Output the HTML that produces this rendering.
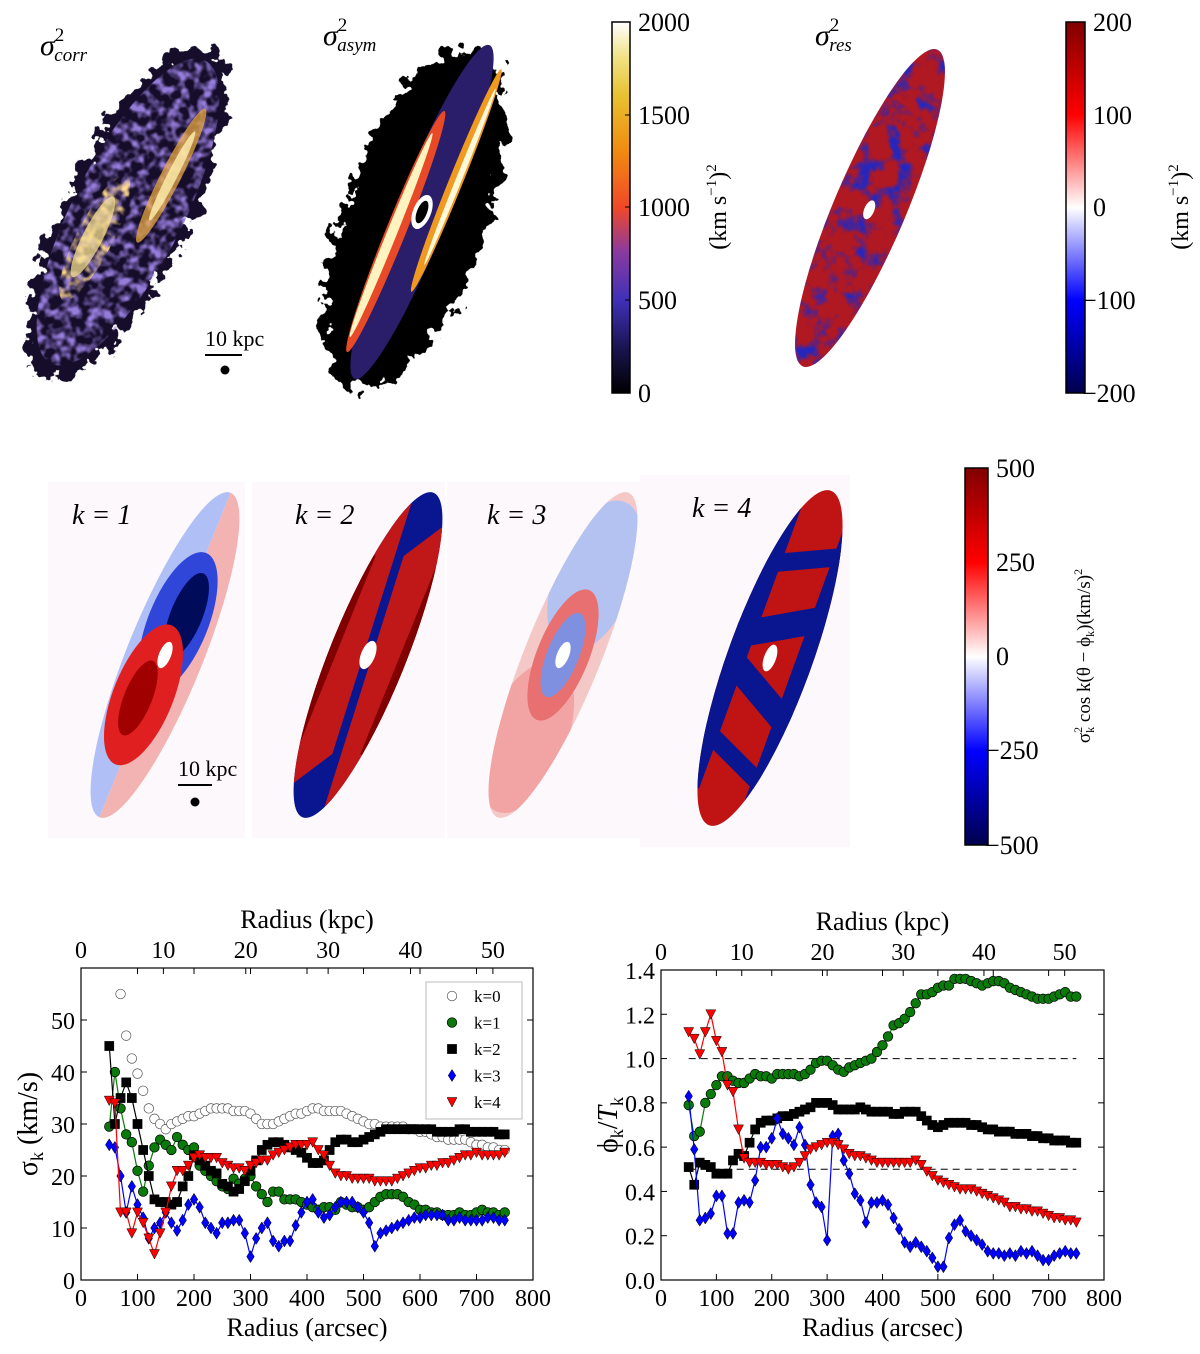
<!DOCTYPE html>
<html><head><meta charset="utf-8"><style>
body{margin:0;background:#fff;}
svg{display:block;font-family:"Liberation Serif",serif;}
</style></head><body>
<svg id="fig" width="1200" height="1354" viewBox="0 0 1200 1354">
<defs>
<linearGradient id="cmr" x1="0" y1="1" x2="0" y2="0">
<stop offset="0" stop-color="#000"/><stop offset="0.12" stop-color="#1a1450"/><stop offset="0.25" stop-color="#4030b8"/><stop offset="0.38" stop-color="#8a3aa0"/><stop offset="0.5" stop-color="#f04828"/><stop offset="0.65" stop-color="#f08a10"/><stop offset="0.8" stop-color="#e8c030"/><stop offset="0.9" stop-color="#f0e080"/><stop offset="1" stop-color="#fff"/>
</linearGradient>
<linearGradient id="seis" x1="0" y1="1" x2="0" y2="0">
<stop offset="0" stop-color="#00004c"/><stop offset="0.25" stop-color="#0000ff"/><stop offset="0.5" stop-color="#ffffff"/><stop offset="0.75" stop-color="#ff0000"/><stop offset="1" stop-color="#800000"/>
</linearGradient>
<filter id="rough" x="-20%" y="-20%" width="140%" height="140%">
<feTurbulence type="fractalNoise" baseFrequency="0.07" numOctaves="3" seed="3"/>
<feDisplacementMap in="SourceGraphic" scale="36" xChannelSelector="R" yChannelSelector="G"/>
</filter>
<filter id="blueNoise" x="0" y="0" width="100%" height="100%">
<feTurbulence type="fractalNoise" baseFrequency="0.05" numOctaves="3" seed="7"/>
<feColorMatrix type="matrix" values="0 0 0 0 0.02  0 0 0 0 0.02  0 0 0 0 0.5  4 0 0 0 -1.9"/>
<feComposite in2="SourceGraphic" operator="in"/>
</filter>
<filter id="purpleNoise" x="0" y="0" width="100%" height="100%">
<feTurbulence type="fractalNoise" baseFrequency="0.1" numOctaves="2" seed="5"/>
<feColorMatrix type="matrix" values="0 0 0 0 0.3  0 0 0 0 0.2  0 0 0 0 0.7  3 0 0 0 -1.2"/>
<feComposite in2="SourceGraphic" operator="in"/>
</filter>
<filter id="warmNoise" x="0" y="0" width="100%" height="100%">
<feTurbulence type="fractalNoise" baseFrequency="0.1" numOctaves="2" seed="11"/>
<feColorMatrix type="matrix" values="0 0 0 0 1  0 0 0 0 0.7  0 0 0 0 0.25  3 0 0 0 -1.3"/>
<feComposite in2="SourceGraphic" operator="in"/>
</filter>
<clipPath id="c1"><ellipse cx="165" cy="655" rx="38" ry="175" transform="rotate(22 165 655)"/></clipPath>
<clipPath id="c2"><ellipse cx="368" cy="655" rx="38" ry="175" transform="rotate(22 368 655)"/></clipPath>
<clipPath id="c3"><ellipse cx="563" cy="655" rx="38" ry="175" transform="rotate(22 563 655)"/></clipPath>
<clipPath id="c4"><ellipse cx="770" cy="658" rx="42" ry="178" transform="rotate(20 770 658)"/></clipPath>
</defs>

<g>
<g transform="rotate(27 128 212)" filter="url(#rough)">
<ellipse cx="128" cy="212" rx="62" ry="185" fill="#140a2a"/>
</g>
<g transform="rotate(27 128 212)">
<ellipse cx="128" cy="212" rx="55" ry="170" fill="#fff" filter="url(#purpleNoise)"/>
<ellipse cx="110" cy="250" rx="18" ry="70" fill="#fff" filter="url(#warmNoise)"/>
<ellipse cx="108" cy="250" rx="10" ry="45" fill="#f8e090" opacity="0.75"/>
<ellipse cx="150" cy="160" rx="10" ry="75" fill="#f4b040" opacity="0.7"/>
<ellipse cx="151" cy="160" rx="5" ry="50" fill="#fff0b0" opacity="0.8"/>
</g>
<text x="40" y="55" font-size="30" font-style="italic">σ<tspan font-size="19" dy="-14" font-style="normal">2</tspan><tspan font-size="19" dy="20" dx="-10">corr</tspan></text>
<text x="205" y="346" font-size="22">10 kpc</text>
<line x1="205" y1="355" x2="242" y2="355" stroke="#000" stroke-width="2"/>
<circle cx="225" cy="370" r="4.5" fill="#000"/>
</g>

<g>
<g transform="rotate(20 415 218)" filter="url(#rough)">
<ellipse cx="415" cy="218" rx="72" ry="180" fill="#000"/>
</g>
<g transform="rotate(22 422 212)">
<ellipse cx="422" cy="212" rx="26" ry="180" fill="#2a1d6a"/>
<ellipse cx="405" cy="240" rx="10" ry="130" fill="#e84a28"/>
<ellipse cx="402" cy="245" rx="5" ry="110" fill="#fff4c0"/>
<ellipse cx="442" cy="170" rx="7" ry="120" fill="#f09a20"/>
<ellipse cx="444" cy="165" rx="3" ry="95" fill="#fff8d8"/>
<ellipse cx="422" cy="212" rx="9" ry="18" fill="#fff"/>
<ellipse cx="422" cy="212" rx="5" ry="12" fill="#000"/>
</g>
<text x="323" y="45" font-size="30" font-style="italic">σ<tspan font-size="19" dy="-14" font-style="normal">2</tspan><tspan font-size="19" dy="20" dx="-10">asym</tspan></text>
</g>

<g>
<rect x="612" y="22" width="18" height="371" fill="url(#cmr)" stroke="#000" stroke-width="1.5"/>
<g font-size="26">
<text x="638" y="31">2000</text><text x="638" y="124">1500</text><text x="638" y="216">1000</text><text x="638" y="309">500</text><text x="638" y="402">0</text>
</g>
<g stroke="#000" stroke-width="1"><line x1="625" y1="115" x2="630" y2="115"/><line x1="625" y1="207" x2="630" y2="207"/><line x1="625" y1="300" x2="630" y2="300"/></g>
<text transform="translate(726 207) rotate(-90)" text-anchor="middle" font-size="24">(km s<tspan font-size="15" dy="-10">−1</tspan><tspan dy="10">)</tspan><tspan font-size="15" dy="-10">2</tspan></text>
</g>

<g>
<g transform="rotate(23 870 208)">
<ellipse cx="870" cy="208" rx="36" ry="172" fill="#b01822"/>
<ellipse cx="870" cy="208" rx="36" ry="172" fill="#fff" filter="url(#blueNoise)"/>
<ellipse cx="870" cy="210" rx="5" ry="10" fill="#fff"/>
</g>
<text x="815" y="45" font-size="30" font-style="italic">σ<tspan font-size="19" dy="-14" font-style="normal">2</tspan><tspan font-size="19" dy="20" dx="-10">res</tspan></text>
</g>

<g>
<rect x="1066" y="22" width="19" height="371" fill="url(#seis)" stroke="#000" stroke-width="1.5"/>
<g font-size="26">
<text x="1093" y="31">200</text><text x="1093" y="124">100</text><text x="1093" y="216">0</text><text x="1082" y="309">−100</text><text x="1082" y="402">−200</text>
</g>
<text transform="translate(1188 207) rotate(-90)" text-anchor="middle" font-size="24">(km s<tspan font-size="15" dy="-10">−1</tspan><tspan dy="10">)</tspan><tspan font-size="15" dy="-10">2</tspan></text>
</g>

<g>
<rect x="48" y="482" width="197" height="356" fill="#fdf8fb"/>
<rect x="252" y="482" width="193" height="356" fill="#fdf8fb"/>
<rect x="447" y="482" width="193" height="356" fill="#fdf8fb"/>
<rect x="640" y="475" width="210" height="372" fill="#fdf8fb"/>

<g clip-path="url(#c1)">
<g transform="rotate(22 165 655)">
<rect x="120" y="470" width="45" height="370" fill="#b0bff5"/>
<rect x="165" y="470" width="45" height="370" fill="#f3b3b3"/>
<ellipse cx="165" cy="620" rx="30" ry="75" fill="#3046d8"/>
<ellipse cx="170" cy="610" rx="16" ry="45" fill="#000c5a"/>
<ellipse cx="160" cy="700" rx="30" ry="75" fill="#e02020"/>
<ellipse cx="156" cy="705" rx="14" ry="40" fill="#a00000"/>
<ellipse cx="165" cy="655" rx="6" ry="14" fill="#fff"/>
</g>
</g>
<text x="72" y="524" font-size="28" font-style="italic">k = 1</text>
<text x="178" y="776" font-size="22">10 kpc</text>
<line x1="178" y1="785" x2="212" y2="785" stroke="#000" stroke-width="2"/>
<circle cx="195" cy="802" r="4.5" fill="#000"/>

<g clip-path="url(#c2)">
<g transform="rotate(22 368 655)">
<rect x="320" y="470" width="100" height="370" fill="#0a1690"/>
<path d="M330 480 L350 480 L372 760 L330 830Z" fill="#c01818"/>
<path d="M406 830 L386 830 L364 550 L406 480Z" fill="#c01818"/>
<rect x="328" y="560" width="10" height="270" fill="#800000"/>
<rect x="398" y="480" width="10" height="270" fill="#800000"/>
<ellipse cx="368" cy="655" rx="7" ry="15" fill="#fff"/>
</g>
</g>
<text x="295" y="524" font-size="28" font-style="italic">k = 2</text>

<g clip-path="url(#c3)">
<g transform="rotate(22 563 655)">
<rect x="520" y="470" width="90" height="370" fill="#f5c8c8"/>
<ellipse cx="563" cy="570" rx="40" ry="80" fill="#b4c2f2"/>
<ellipse cx="560" cy="745" rx="40" ry="80" fill="#f2a4a4"/>
<ellipse cx="563" cy="655" rx="26" ry="70" fill="#e87070"/>
<ellipse cx="563" cy="655" rx="16" ry="45" fill="#8090e0"/>
<ellipse cx="563" cy="655" rx="6" ry="14" fill="#fff"/>
</g>
</g>
<text x="487" y="524" font-size="28" font-style="italic">k = 3</text>

<g clip-path="url(#c4)">
<g transform="rotate(20 770 658)">
<rect x="720" y="470" width="100" height="380" fill="#c01414"/>
<rect x="726" y="505" width="22" height="300" fill="#0a1690"/>
<rect x="795" y="505" width="22" height="300" fill="#0a1690"/>
<rect x="726" y="612" width="88" height="26" fill="#0a1690" transform="rotate(-30 770 625)"/>
<rect x="726" y="680" width="88" height="26" fill="#0a1690" transform="rotate(30 770 693)"/>
<rect x="726" y="545" width="88" height="18" fill="#0a1690" transform="rotate(-25 770 554)"/>
<rect x="726" y="755" width="88" height="18" fill="#0a1690" transform="rotate(25 770 764)"/>
<ellipse cx="770" cy="658" rx="6" ry="14" fill="#fff"/>
</g>
</g>
<text x="692" y="517" font-size="28" font-style="italic">k = 4</text>
</g>

<g>
<rect x="965" y="468" width="23" height="377" fill="url(#seis)" stroke="#000" stroke-width="1.5"/>
<g font-size="26">
<text x="996" y="477">500</text><text x="996" y="571">250</text><text x="996" y="665">0</text><text x="985" y="759">−250</text><text x="985" y="854">−500</text>
</g>
<text transform="translate(1090 656) rotate(-90)" text-anchor="middle" font-size="19">σ<tspan font-size="12" dy="-8">2</tspan><tspan font-size="12" dy="12" dx="-6">k</tspan><tspan dy="-4"> cos k(θ − ϕ</tspan><tspan font-size="12" dy="4">k</tspan><tspan dy="-4">)(km/s)</tspan><tspan font-size="12" dy="-8">2</tspan></text>
</g>

<g id="chartL"></g>
<g id="chartR"></g>
</svg>

<script>
const radius=[50,60,70,80,90,100,110,120,130,140,150,160,170,180,190,200,210,220,230,240,250,260,270,280,290,300,310,320,330,340,350,360,370,380,390,400,410,420,430,440,450,460,470,480,490,500,510,520,530,540,550,560,570,580,590,600,610,620,630,640,650,660,670,680,690,700,710,720,730,740,750];
const sigK0=[null,null,55,47,42.6,39.7,36.4,33,31,30,29,30,30.5,31,31.5,31.5,32,32.5,33,33,33,33,32.5,32.5,32.5,32,31,30,30,30,30.5,31,31.5,32,32,32.5,33,33,32.5,32.5,32.5,32.5,32,31.5,31,30.5,30,30,29.5,29.5,29.5,29.5,29.5,29,29,28.5,28.5,28,27.5,27.5,27,27,27,27,26.5,26,26,25.5,25.5,25,25];
const sigK1=[29.5,40,33,28,26.5,21,17,22,25.5,27,26,25,27.5,26,25,25.5,22,21,20,19,18,17.5,19.5,18.5,19.5,20,18,16.5,15,17,17,15.5,15.5,15.5,15,14.5,14,13.5,14,14,13.5,15,14.5,14,14,13.5,14,15,16,16.5,16.5,16.5,16,15,14.5,13.5,13.5,13,13,12.5,12.5,12.5,13,12.5,12.5,13,13.5,13,13,12.5,13];
const sigK2=[45,30,35,38,35,30,25,20,15.5,15,15,14.5,15,18,20,24,23,22,21,20.5,18.5,18,17,17.5,19,21,23,25,26,26.5,26.5,26,25.5,25,24.5,23.5,22.5,22.5,23,25,26.5,27,27,26.5,26.5,27,27.5,28,28.5,29,29,29,29,29,29,29,29,29,28.5,28.5,28.5,28.5,29,29,28.5,28.5,28.5,28.5,28.5,28,28];
const sigK3=[26,25.5,20,13,18,14.5,12,8,10,11,13,11,9.5,11.5,14.5,15.5,14,11,10,9,11,11,11.5,11.5,9,4.5,8,10,11,7.5,6.5,7.5,7.5,10.5,13,15,15.5,13,12,12.5,14,15,15,15,14,13,11,6.5,9,9.5,10,10.5,11,11.5,12,12,12.5,12.5,12.5,12.5,11.5,11.5,12,11.5,11.5,11.5,11.5,12,12,11.5,11.5];
const sigK4=[34.5,34,13,13,9,13,11,8,5,9,13,18,21,21,22,23.5,24,23.5,23.5,23.5,22.5,22,21.5,21.5,21,22,22.5,23,23,24,24.5,25,25.5,26,26,26,26.5,25,24,22,20.5,20,20,19.5,19.5,19.5,19.5,19,19,19,19,19.5,20,20.5,21,21.5,21.5,22,22,22.5,22.5,23,23.5,24,24,24.5,24,24,24,24,24.5];
const phK1=[0.79,0.65,0.67,0.8,0.84,0.88,0.92,0.92,0.9,0.89,0.89,0.91,0.93,0.92,0.92,0.91,0.93,0.93,0.93,0.93,0.92,0.93,0.95,0.98,0.99,0.99,0.97,0.95,0.94,0.96,0.97,0.98,0.99,1.0,1.03,1.06,1.10,1.15,1.16,1.18,1.21,1.25,1.29,1.29,1.30,1.32,1.33,1.33,1.36,1.36,1.36,1.35,1.34,1.33,1.34,1.35,1.35,1.34,1.32,1.31,1.30,1.29,1.28,1.27,1.27,1.27,1.28,1.29,1.30,1.28,1.28];
const phK2=[0.51,0.43,0.53,0.52,0.51,0.48,0.48,0.48,0.54,0.57,0.56,0.62,0.68,0.71,0.72,0.72,0.73,0.74,0.74,0.75,0.76,0.77,0.78,0.80,0.80,0.80,0.79,0.77,0.77,0.77,0.77,0.78,0.77,0.76,0.76,0.76,0.76,0.75,0.75,0.76,0.76,0.76,0.74,0.72,0.70,0.69,0.70,0.71,0.71,0.71,0.71,0.70,0.70,0.69,0.68,0.68,0.67,0.67,0.67,0.66,0.66,0.66,0.65,0.65,0.64,0.64,0.63,0.63,0.63,0.62,0.62];
const phK3=[0.83,0.59,0.27,0.28,0.30,0.38,0.38,0.21,0.21,0.35,0.36,0.35,0.45,0.60,0.60,0.64,0.73,0.66,0.64,0.61,0.69,0.61,0.43,0.35,0.33,0.18,0.65,0.66,0.54,0.48,0.39,0.36,0.26,0.35,0.35,0.36,0.34,0.28,0.23,0.17,0.15,0.17,0.15,0.13,0.10,0.06,0.06,0.19,0.25,0.27,0.22,0.20,0.18,0.16,0.13,0.12,0.12,0.11,0.12,0.11,0.13,0.12,0.13,0.11,0.09,0.09,0.11,0.12,0.13,0.12,0.12];
const phK4=[1.12,1.09,1.02,1.12,1.20,1.08,1.03,0.88,0.85,0.68,0.55,0.53,0.53,0.53,0.52,0.52,0.52,0.51,0.50,0.51,0.53,0.56,0.59,0.60,0.61,0.62,0.62,0.61,0.59,0.57,0.56,0.56,0.55,0.54,0.53,0.53,0.53,0.53,0.53,0.53,0.53,0.54,0.52,0.49,0.47,0.45,0.44,0.43,0.42,0.41,0.41,0.41,0.40,0.39,0.38,0.37,0.36,0.35,0.33,0.33,0.32,0.32,0.31,0.31,0.30,0.29,0.28,0.28,0.27,0.27,0.26];
const xTicks=[0,100,200,300,400,500,600,700,800];
const kpcTicks=[0,10,20,30,40,50];
const yTicksL=[0,10,20,30,40,50];
const yTicksR=[0,0.2,0.4,0.6,0.8,1.0,1.2,1.4];
const refLines=[1.0,0.5];
const ARCSEC_PER_KPC=14.58;

const NS="http://www.w3.org/2000/svg";
function mk(parent,tag,attrs){const e=document.createElementNS(NS,tag);for(const k in attrs)e.setAttribute(k,attrs[k]);parent.appendChild(e);return e;}

function marker(g,type,cx,cy,color){
  let e;
  if(type==='circle'||type==='open'){e=mk(g,'circle',{cx:cx,cy:cy,r:4.8,fill:type==='open'?'#fff':color,stroke:type==='open'?'#555':'#000','stroke-width':0.7});}
  else if(type==='square'){e=mk(g,'rect',{x:cx-4.6,y:cy-4.6,width:9.2,height:9.2,fill:color,stroke:'#000','stroke-width':0.5});}
  else if(type==='diamond'){e=mk(g,'path',{d:`M${cx} ${cy-6}L${cx+3.8} ${cy}L${cx} ${cy+6}L${cx-3.8} ${cy}Z`,fill:color,stroke:'#000','stroke-width':0.5});}
  else {e=mk(g,'path',{d:`M${cx-5} ${cy-4.5}L${cx+5} ${cy-4.5}L${cx} ${cy+5}Z`,fill:color,stroke:'#000','stroke-width':0.5});}
  return e;
}

function chart(gid,box,ymax,yTicks,yFmt,series,ytitle,refs,legend){
  const g=document.getElementById(gid);
  const X=v=>box.x0+(v/800)*(box.x1-box.x0);
  const Y=v=>box.yb-(v/ymax)*(box.yb-box.yt);
  const fr=mk(g,'rect',{x:box.x0,y:box.yt,width:box.x1-box.x0,height:box.yb-box.yt,fill:'none',stroke:'#000','stroke-width':1.2});
  
  
  xTicks.forEach(t=>{
    mk(g,'line',{x1:X(t),y1:box.yb,x2:X(t),y2:box.yb-6,stroke:'#000'});
    mk(g,'line',{x1:X(t),y1:box.yt,x2:X(t),y2:box.yt+6,stroke:'#000'});
    const tx=mk(g,'text',{x:X(t),y:box.yb+26,'text-anchor':'middle','font-size':24});
    tx.textContent=t;
    
    
  });
  kpcTicks.forEach(t=>{
    const xx=X(t*ARCSEC_PER_KPC);
    mk(g,'line',{x1:xx,y1:box.yt,x2:xx,y2:box.yt+6,stroke:'#000'});
    const tx=mk(g,'text',{x:xx,y:box.yt-10,'text-anchor':'middle','font-size':24});
    tx.textContent=t;
    
    
  });
  yTicks.forEach(t=>{
    mk(g,'line',{x1:box.x0,y1:Y(t),x2:box.x0+6,y2:Y(t),stroke:'#000'});
    mk(g,'line',{x1:box.x1,y1:Y(t),x2:box.x1-6,y2:Y(t),stroke:'#000'});
    const tx=mk(g,'text',{x:box.x0-6,y:Y(t)+9,'text-anchor':'end','font-size':24});
    tx.textContent=yFmt(t);
    
    
  });
  const xt=mk(g,'text',{x:(box.x0+box.x1)/2,y:box.yb+56,'text-anchor':'middle','font-size':26});
  xt.textContent='Radius (arcsec)';
  
  
  const xt2=mk(g,'text',{x:(box.x0+box.x1)/2,y:box.yt-40,'text-anchor':'middle','font-size':26});
  xt2.textContent='Radius (kpc)';
  
  
  const yt=mk(g,'text',{transform:`translate(${box.x0-44} ${(box.yt+box.yb)/2}) rotate(-90)`,'text-anchor':'middle','font-size':28});
  yt.innerHTML=ytitle;
  
  
  refs.forEach(r=>{
    const l=mk(g,'line',{x1:X(50),y1:Y(r),x2:X(750),y2:Y(r),stroke:'#000','stroke-dasharray':'7,5','stroke-width':1});
    
    
  });
  series.forEach(s=>{
    const sg=mk(g,'g',{});
    
    
    if(s.line){
      let d='';
      s.values.forEach((v,i)=>{if(v===null)return;d+=(d?'L':'M')+X(radius[i]).toFixed(1)+' '+Y(v).toFixed(1);});
      mk(sg,'path',{d:d,fill:'none',stroke:s.color,'stroke-width':1.2});
    }
    s.values.forEach((v,i)=>{if(v===null)return;
      const m=marker(sg,s.type,X(radius[i]),Y(v),s.color);
      
      
    });
  });
  if(legend){
    const lg=mk(g,'g',{});
    
    
    mk(lg,'rect',{x:426,y:982,width:96,height:137,fill:'#fff',stroke:'#bbb'});
    series.forEach((s,i)=>{
      const yy=996+i*26.5;
      const m=marker(lg,s.type,452,yy,s.color);
      
      
      const t=mk(lg,'text',{x:474,y:yy+6,'font-size':17});
      t.textContent=s.label;
      
      
    });
  }
}

chart('chartL',{x0:81,x1:533,yt:968,yb:1280},60,yTicksL,t=>t,[
  {name:'series-k0',label:'k=0',values:sigK0,type:'open',color:'#fff',line:false},
  {name:'series-k1',label:'k=1',values:sigK1,type:'circle',color:'#0a7a0a',line:true},
  {name:'series-k2',label:'k=2',values:sigK2,type:'square',color:'#000',line:true},
  {name:'series-k3',label:'k=3',values:sigK3,type:'diamond',color:'#0000ff',line:true},
  {name:'series-k4',label:'k=4',values:sigK4,type:'tri',color:'#ff0000',line:true}
],'σ<tspan font-size="18" dy="6">k</tspan><tspan dy="-6"> (km/s)</tspan>',[],true);

chart('chartR',{x0:661,x1:1104,yt:970,yb:1280},1.4,yTicksR,t=>t.toFixed(1),[
  {name:'phase-k1',values:phK1,type:'circle',color:'#0a7a0a',line:true},
  {name:'phase-k2',values:phK2,type:'square',color:'#000',line:true},
  {name:'phase-k3',values:phK3,type:'diamond',color:'#0000ff',line:true},
  {name:'phase-k4',values:phK4,type:'tri',color:'#ff0000',line:true}
],'ϕ<tspan font-size="18" dy="6">k</tspan><tspan dy="-6">/</tspan><tspan font-style="italic">T</tspan><tspan font-size="18" dy="6">k</tspan>',refLines,false);
</script>
</body></html>
